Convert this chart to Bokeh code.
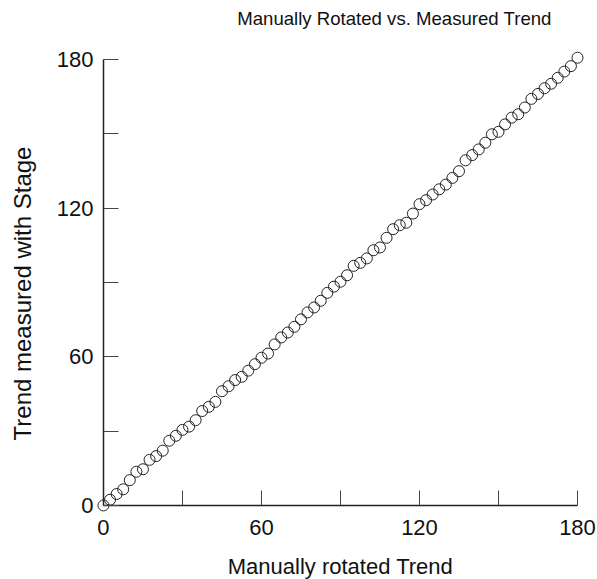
import math
from bokeh.plotting import figure
from bokeh.models import Range1d, LinearAxis, FixedTicker, Label
from bokeh.embed import file_html
from bokeh.resources import INLINE

# Manually rotated trend (degrees)
manual_trend = [0, 2.5, 5, 7.5, 10, 12.5, 15, 17.5, 20, 22.5, 25, 27.5,
                30, 32.5, 35, 37.5, 40, 42.5, 45, 47.5, 50, 52.5, 55, 57.5,
                60, 62.5, 65, 67.5, 70, 72.5, 75, 77.5, 80, 82.5, 85, 87.5,
                90, 92.5, 95, 97.5, 100, 102.5, 105, 107.5, 110, 112.5, 115, 117.5,
                120, 122.5, 125, 127.5, 130, 132.5, 135, 137.5, 140, 142.5, 145, 147.5,
                150, 152.5, 155, 157.5, 160, 162.5, 165, 167.5, 170, 172.5, 175, 177.5,
                180]
# Trend measured with stage (degrees)
stage_trend = [0, 2.3, 4.6, 6.5, 10.2, 13.6, 14.6, 18.4, 19.9, 22.1, 26.1, 28.1,
               30.5, 31.8, 34.4, 38.1, 39.8, 41.8, 46.1, 48.1, 50.6, 51.9, 54.4, 57.0,
               59.6, 61.3, 65.0, 67.8, 69.8, 72.1, 75.1, 77.9, 79.9, 82.6, 85.8, 88.3,
               90.3, 92.9, 96.7, 97.9, 99.7, 103.0, 104.1, 108.0, 111.5, 113.1, 114.1, 117.8,
               121.6, 123.2, 125.5, 127.6, 129.5, 132.2, 134.9, 139.3, 141.4, 143.7, 146.4, 149.8,
               150.8, 153.8, 156.5, 157.9, 160.6, 164.1, 166.1, 168.4, 170.2, 172.6, 175.1, 177.3,
               180.7]

tick_values = [0, 30, 60, 90, 120, 150, 180]
tick_labels = {0: "0", 30: "", 60: "60", 90: "", 120: "120", 150: "", 180: "180"}

FONT = "Liberation Sans"

# frame covers the whole canvas; axes sit at data 0 (fixed_location)
p = figure(width=597, height=579, output_backend="svg", toolbar_location=None,
           x_range=Range1d(-39.1, 187.6), y_range=Range1d(-29.9, 203.8),
           x_axis_type=None, y_axis_type=None,
           min_border_left=0, min_border_right=0,
           min_border_top=0, min_border_bottom=0)
p.outline_line_color = None
p.xgrid.visible = False
p.ygrid.visible = False
p.background_fill_color = "white"
p.border_fill_color = "white"

axis_specs = (
    ("below", "Manually rotated Trend", 15),
    ("left", None, 10),
)
for side, label, lbl_standoff in axis_specs:
    ax = LinearAxis(ticker=FixedTicker(ticks=tick_values),
                    major_label_overrides=tick_labels,
                    fixed_location=0, bounds=(0, 180),
                    axis_label=label)
    ax.axis_line_color = "#222222"
    ax.axis_line_width = 1.5
    ax.major_tick_in = 15
    ax.major_tick_out = 0
    ax.major_tick_line_color = "#444444"
    ax.major_tick_line_width = 1
    ax.minor_tick_line_color = None
    ax.major_label_text_font = FONT
    ax.major_label_text_font_size = "22px"
    ax.major_label_text_color = "#111111"
    ax.major_label_standoff = lbl_standoff
    ax.axis_label_text_font = FONT
    ax.axis_label_text_font_size = "22px"
    ax.axis_label_text_font_style = "normal"
    ax.axis_label_text_color = "#111111"
    ax.axis_label_standoff = 15
    p.add_layout(ax, side)

p.scatter(manual_trend, stage_trend, marker="circle", size=11,
          fill_color=None, line_color="#222222", line_width=1)

y_title = Label(x=22, y=286, x_units="screen", y_units="screen",
                text="Trend measured with Stage", angle=math.pi / 2,
                text_font=FONT, text_font_size="24px", text_color="#111111",
                text_align="center", text_baseline="middle")
p.add_layout(y_title)

title = Label(x=394, y=561, x_units="screen", y_units="screen",
              text="Manually Rotated vs. Measured Trend",
              text_font=FONT, text_font_size="18.6px", text_color="#111111",
              text_align="center", text_baseline="middle")
p.add_layout(title)

open("out.html", "w").write(file_html(p, INLINE))
